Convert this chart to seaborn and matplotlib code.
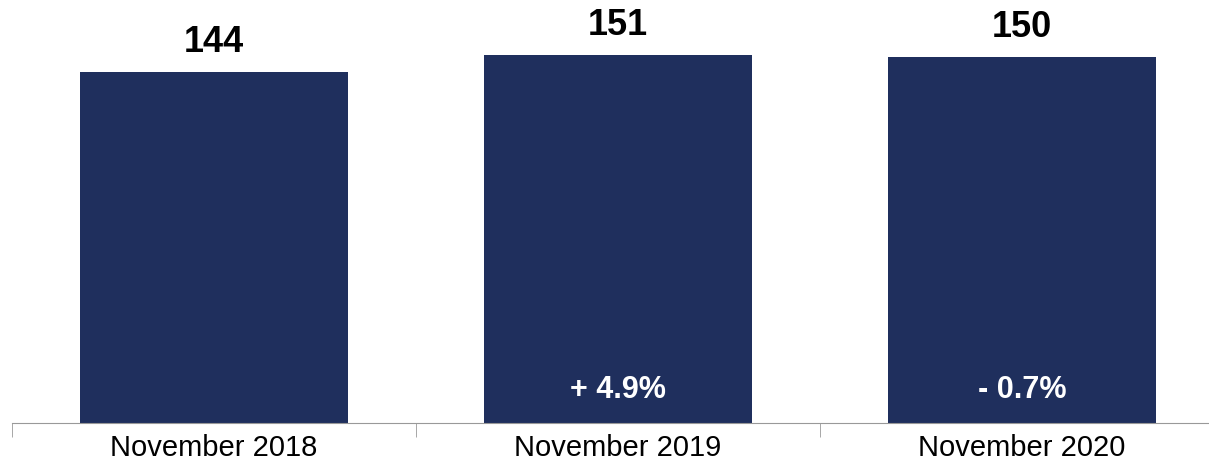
import matplotlib
matplotlib.use("Agg")
import matplotlib.pyplot as plt
import seaborn as sns
import pandas as pd

categories = ["November 2018", "November 2019", "November 2020"]
values = [144, 151, 150]
changes = ["", "+ 4.9%", "- 0.7%"]

sns.set_style("white")
plt.rcParams['font.family'] = ['Liberation Sans', 'DejaVu Sans']

df = pd.DataFrame({"month": categories, "value": values})

fig = plt.figure(figsize=(12.09, 4.67), dpi=100)
ax = fig.add_axes([12 / 1209, 44 / 467, 1212 / 1209, 439 / 467])
sns.barplot(data=df, x="month", y="value", color="#1f2f5d", saturation=1, width=0.665,
            linewidth=0, ax=ax)
ax.set_xlim(-0.5, 2.5)
ax.set_ylim(0, 180)

for i, (v, c) in enumerate(zip(values, changes)):
    ax.text(i, v + 5, str(v), ha="center", va="bottom", fontsize=26, fontweight="bold", color="black")
    if c:
        ax.text(i, 13.5, c, ha="center", va="center", fontsize=22, fontweight="bold", color="white")

for s in ["top", "right", "left"]:
    ax.spines[s].set_visible(False)
ax.spines["bottom"].set_color("#999999")
ax.set_yticks([])
ax.set_xlabel("")
ax.set_ylabel("")
ax.set_xticks([-0.5, 0.5, 1.5, 2.5], minor=True)
ax.tick_params(axis="x", which="major", length=0, labelsize=21, pad=8, labelcolor="black")
ax.tick_params(axis="x", which="minor", length=10, color="#999999", bottom=True)

fig.savefig("out.png", dpi=100)
